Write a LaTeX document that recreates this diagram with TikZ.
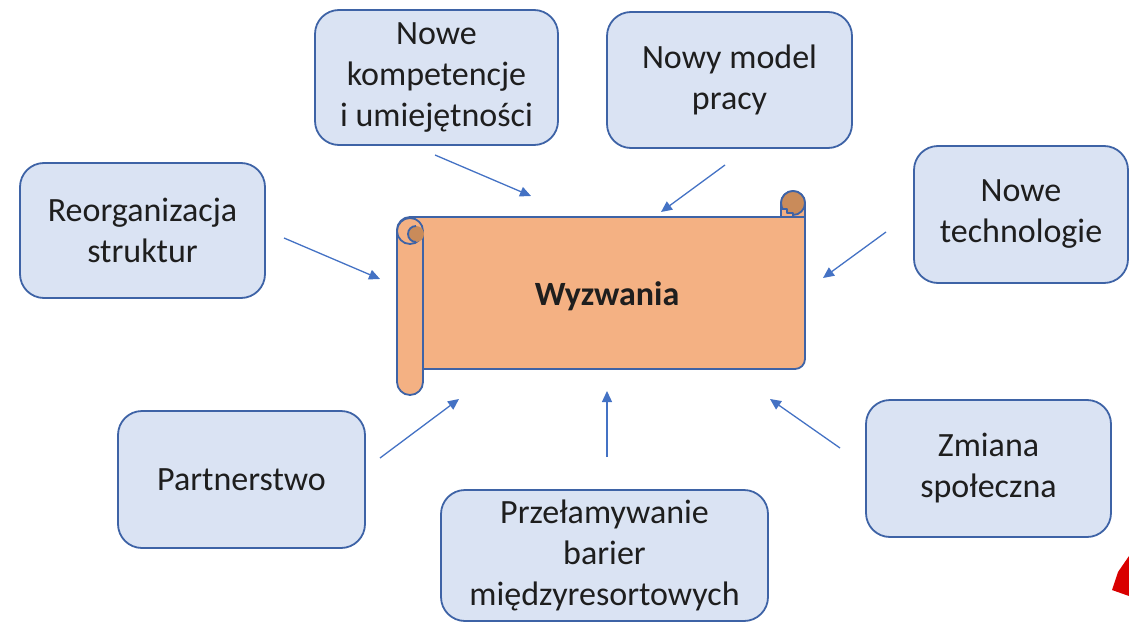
\documentclass[tikz,border=0pt]{standalone}
\usepackage{fontspec}
\setmainfont{Carlito}
\usetikzlibrary{arrows.meta}
\definecolor{boxfill}{HTML}{DAE3F3}
\definecolor{boxline}{HTML}{3E63A6}
\definecolor{scrollfill}{HTML}{F4B183}
\definecolor{scrolldark}{HTML}{C98B5A}
\definecolor{arrowcol}{HTML}{4472C4}
\definecolor{txt}{HTML}{1E1E1E}
\tikzset{
  topic/.style={draw=boxline, line width=1.8pt, fill=boxfill, rounded corners=24pt,
    align=center, text=txt, font=\fontsize{34}{41}\selectfont, inner sep=0pt},
  link/.style={draw=arrowcol, line width=1.3pt, -{Triangle[length=11pt,width=10pt]}},
  scrollline/.style={draw=boxline, line width=1.8pt, line join=round}
}
\begin{document}
\begin{tikzpicture}[x=1pt,y=-1pt]
\useasboundingbox (0,0) rectangle (1129,623);
% scroll
\path[scrollline, fill=scrollfill]
  (423,369) -- (795,369) arc[start angle=90, end angle=0, radius=10]
  -- (805,203) arc[start angle=0, end angle=-180, radius=12]
  -- (781,217) -- (410,217) arc[start angle=-90, end angle=-180, radius=13]
  -- (397,382) arc[start angle=180, end angle=0, radius=13]
  -- cycle;
\draw[scrollline] (423,231) -- (423,382);
\draw[scrollline, fill=scrollfill] (410,231) circle[radius=13];
\fill[scrolldark] (416,234) circle[radius=8];
\draw[scrollline] (416,226) arc[start angle=-90, end angle=-270, radius=8];
\draw[scrollline, fill=scrolldark] (793,203) circle[radius=12];
\path[scrollline, fill=scrollfill] (781,217) -- (781,209) -- (787,209) -- (787,213) -- (793,213) -- (793,217) -- cycle;
\draw[scrollline] (781,217) -- (805,217);
\node[text=txt, font=\fontsize{34}{41}\selectfont\bfseries] (wyz) at (607,296) {Wyzwania};
% topic boxes
\node[topic, minimum width=243pt, minimum height=135pt] (komp) at (436.5,77.5) {Nowe\\kompetencje\\i umiejętności};
\node[topic, minimum width=245pt, minimum height=136pt] (model) at (729.5,80) {Nowy model\\pracy};
\node[topic, minimum width=245pt, minimum height=135pt] (reorg) at (142.5,230.5) {Reorganizacja\\struktur};
\node[topic, minimum width=214pt, minimum height=137pt] (tech) at (1021,214.5) {Nowe\\technologie};
\node[topic, minimum width=247pt, minimum height=137pt] (partner) at (241.5,479.5) {Partnerstwo};
\node[topic, minimum width=327pt, minimum height=131pt] (przel) at (604.5,555.5) {Przełamywanie\\barier\\międzyresortowych};
\node[topic, minimum width=245pt, minimum height=137pt] (zmiana) at (988.5,468.5) {Zmiana\\społeczna};
% connector end points
\coordinate (k1) at (435,155); \coordinate (k2) at (531,196);
\coordinate (m1) at (725,165); \coordinate (m2) at (661,212);
\coordinate (r1) at (284,238); \coordinate (r2) at (380,279);
\coordinate (t1) at (886,232); \coordinate (t2) at (823,278);
\coordinate (p1) at (380,458); \coordinate (p2) at (459,399);
\coordinate (b1) at (607,457); \coordinate (b2) at (607,391);
\coordinate (z1) at (840,448); \coordinate (z2) at (770,399);
\draw[link] (k1) -- (k2);
\draw[link] (m1) -- (m2);
\draw[link] (r1) -- (r2);
\draw[link] (t1) -- (t2);
\draw[link] (p1) -- (p2);
\draw[link] (b1) -- (b2);
\draw[link] (z1) -- (z2);
% red fragment in the corner
\fill[red!85!black] (1129,556) -- (1118,572) -- (1112,590) -- (1129,596) -- cycle;
\end{tikzpicture}
\end{document}
